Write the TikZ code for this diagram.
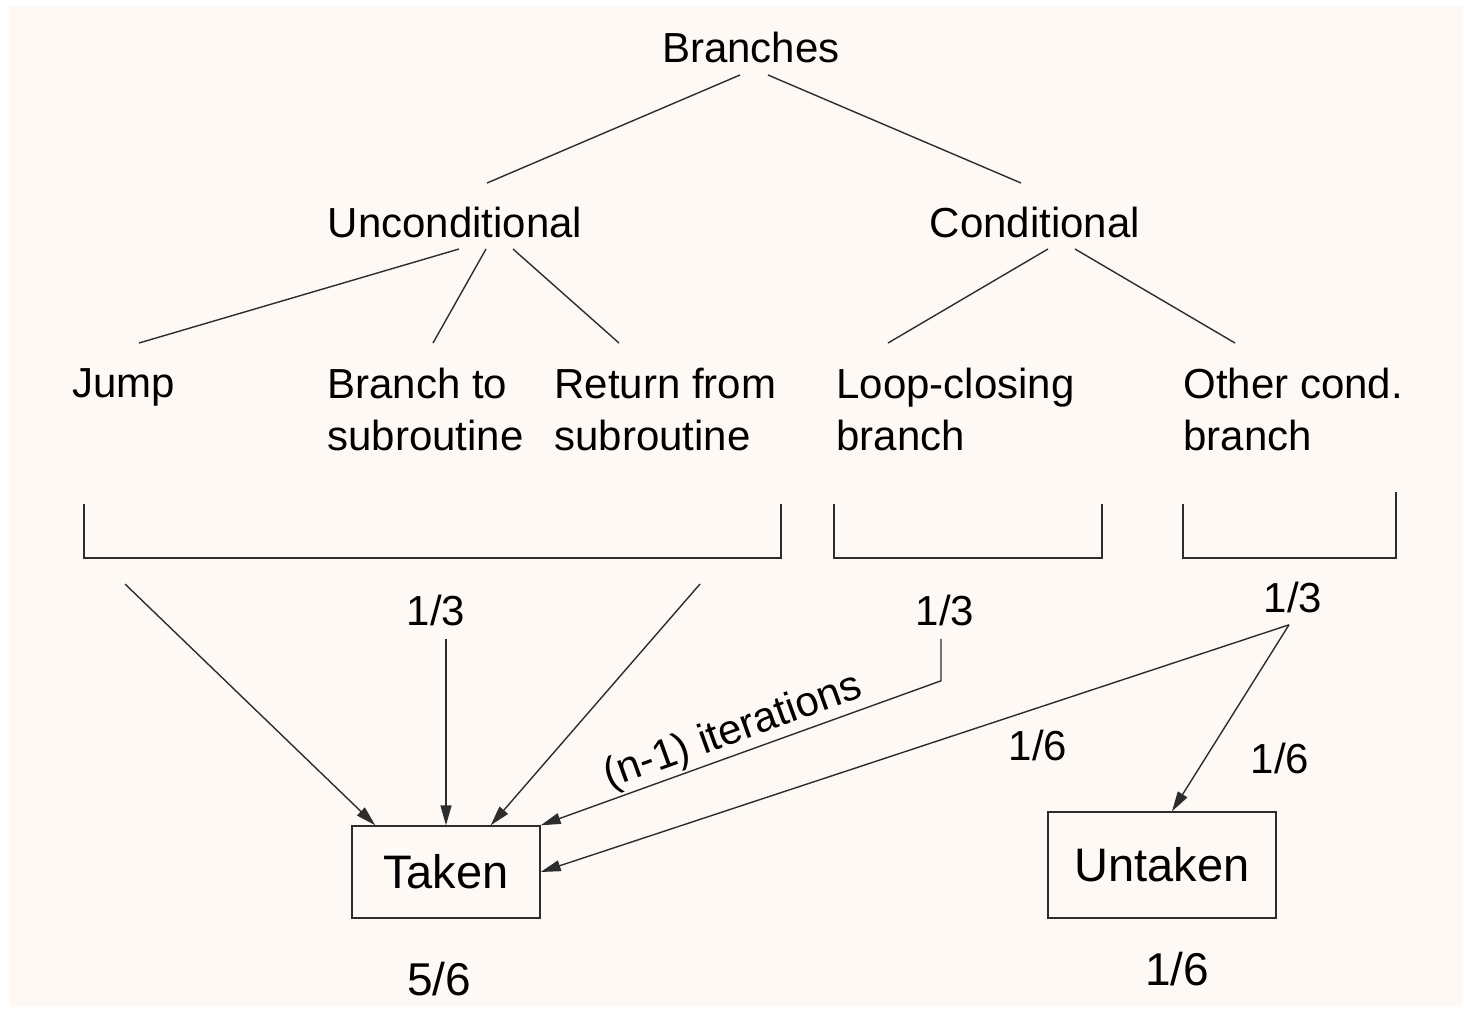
\documentclass[tikz,border=0pt]{standalone}
\usepackage{fontspec}
\setmainfont{Liberation Sans}
\usetikzlibrary{arrows.meta,calc}
\definecolor{paper}{RGB}{254,249,245}
\definecolor{ink}{RGB}{45,45,45}

\begin{document}
\begin{tikzpicture}[x=0.5pt,y=-0.5pt,
    lbl/.style={inner sep=0pt,font=\fontsize{21}{26}\selectfont},
    leaf/.style={lbl,align=left,anchor=north west},
    frac/.style={lbl,anchor=base,inner sep=6.5pt},
    box/.style={draw=ink,line width=0.7pt,inner sep=0pt,font=\fontsize{23.5}{28}\selectfont},
    ln/.style={draw=ink,line width=0.7pt},
    arr/.style={ln,-{Triangle[length=10pt,width=5.5pt]}}]
    \fill[white](0,0) rectangle (1464,1009);
    \fill[paper](9,6) rectangle (1463,1007);
    \useasboundingbox(0,0) rectangle (1464,1009);

    % the tree
    \node[lbl,anchor=base] at(751,62)(br){Branches};
    \node[lbl,anchor=base] at(455,237)(unc){Unconditional};
    \node[lbl,anchor=base] at(1035,237)(cnd){Conditional};
    \node[leaf] at(72,368)(jmp){Jump};
    \node[leaf] at(327,368)(bts){Branch to\\subroutine};
    \node[leaf] at(554,368)(rfs){Return from\\subroutine};
    \node[leaf] at(836,368)(lcb){Loop-closing\\branch};
    \node[leaf] at(1183,368)(ocb){Other cond.\\branch};

    \draw[ln]($(br.base)+(-11,13)$) -- ($(unc.base)+(32,-54)$);
    \draw[ln]($(br.base)+(17,13)$) -- ($(cnd.base)+(-14,-54)$);
    \draw[ln]($(unc.base)+(4,12)$) -- ($(jmp.north west)+(67,-25)$);
    \draw[ln]($(unc.base)+(31,12)$) -- ($(bts.north west)+(106,-25)$);
    \draw[ln]($(unc.base)+(58,12)$) -- ($(rfs.north west)+(65,-25)$);
    \draw[ln]($(cnd.base)+(13,12)$) -- ($(lcb.north west)+(52,-25)$);
    \draw[ln]($(cnd.base)+(40,12)$) -- ($(ocb.north west)+(52,-25)$);

    % brackets
    \draw[ln](84,504) |- (781,558) -- (781,504);
    \draw[ln](834,504) |- (1102,558) -- (1102,504);
    \draw[ln](1183,504) |- (1396,558) -- (1396,492);
    \draw[ink,line width=1.4pt](1396,492) -- (1396,502);

    % shares
    \node[frac] at(436,625)(fu){1/3};
    \node[frac] at(945,625)(fl){1/3};
    \node[frac,inner sep=6pt] at(1293,612)(fo){1/3};

    \node[box,minimum width=94pt,minimum height=46pt] at(446,872)(tk){Taken};
    \node[box,minimum width=114pt,minimum height=53pt] at(1162,865)(ut){Untaken};
    \node[lbl,anchor=base,font=\fontsize{23}{28}\selectfont] at(439,995)(tks){5/6};
    \node[lbl,anchor=base,font=\fontsize{23}{28}\selectfont] at(1177,985)(uts){1/6};

    \coordinate (ua) at(125,584);
    \coordinate (ub) at(700,584);
    \draw[arr](ua) -- ([xshift=12pt]tk.north west);
    \draw[arr](fu.south -| tk.north) -- (tk.north);
    \draw[arr](ub) -- ([xshift=-25pt]tk.north east);
    \draw[arr]([xshift=-2pt]fl.south) -- ++(0,42) coordinate(bend) -- (tk.north east);
    \path(tk.north east) -- (bend) node[lbl,midway,sloped,above=1pt]{(n-1) iterations};
    \draw[arr]([xshift=-2pt]fo.south) -- (tk.east);
    \draw[arr]([xshift=-2pt]fo.south) -- ([xshift=5pt]ut.north);
    \node[lbl,anchor=base] at(1038,760)(ha){1/6};
    \node[lbl,anchor=base] at(1280,773)(hb){1/6};
\end{tikzpicture}
\end{document}
